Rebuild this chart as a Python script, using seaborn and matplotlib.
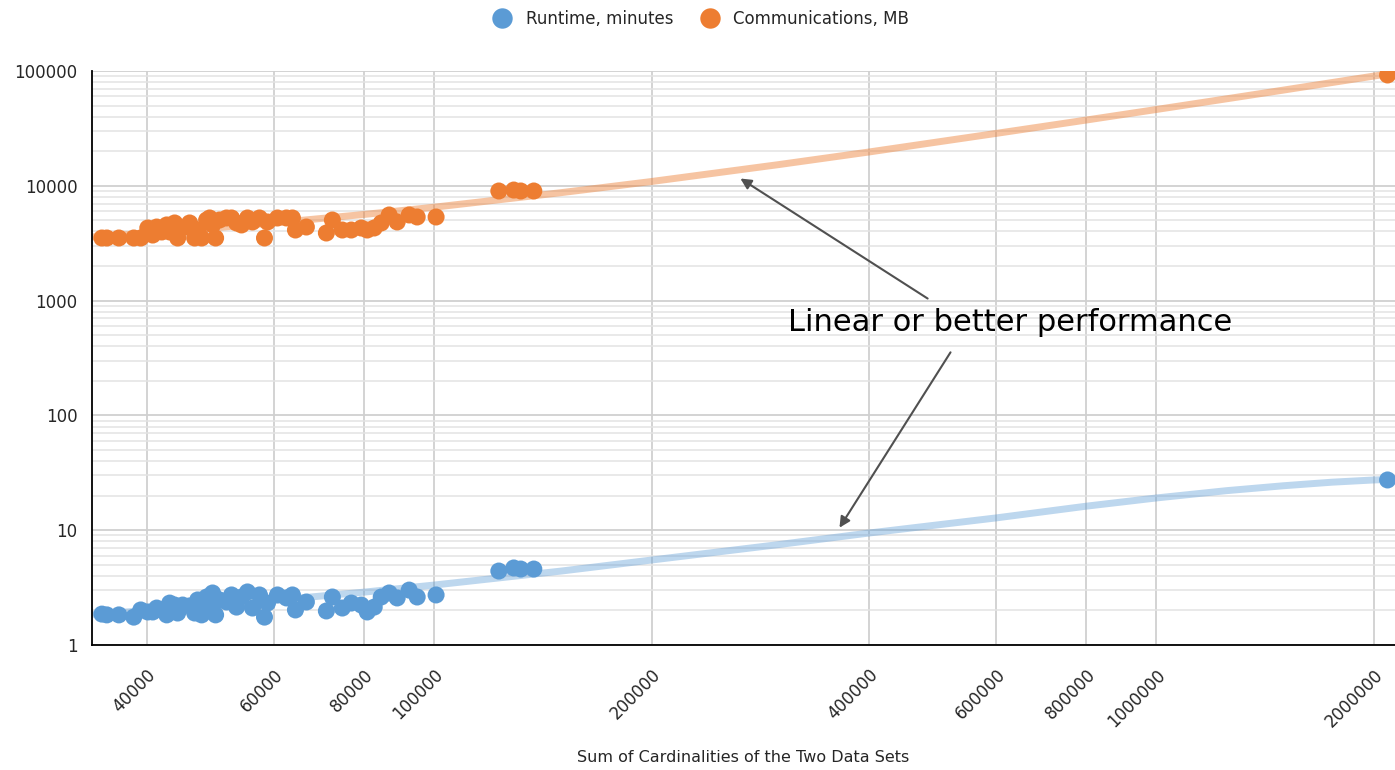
import numpy as np
import pandas as pd
import matplotlib
matplotlib.use("Agg")
import matplotlib.pyplot as plt
import matplotlib.ticker as mticker
import seaborn as sns

# x = sum of cardinalities
cardinality = [34670, 35220, 36600, 38380, 39240, 40130, 40770, 41290, 41960, 42630,
               43040, 43720, 44140, 44850, 45860, 46600, 47050, 47650, 48410, 48880,
               49340, 49820, 50450, 51590, 52420, 53260, 54110, 55150, 56040, 57300,
               58220, 58780, 60680, 62450, 63650, 64260, 66540, 70920, 72290, 74620,
               76780, 79260, 80790, 82610, 84470, 86640, 88880, 92350, 94730, 100620,
               122900, 128900, 131800, 137400, 2090000]

runtime_min = [1.86, 1.83, 1.83, 1.75, 2.02, 1.94, 1.94, 2.10, 2.02, 1.83,
               2.32, 2.23, 1.90, 2.23, 2.19, 1.90, 2.47, 1.83, 2.62, 2.32,
               2.84, 1.83, 2.47, 2.37, 2.73, 2.14, 2.62, 2.90, 2.10, 2.73,
               1.75, 2.32, 2.73, 2.57, 2.73, 2.02, 2.37, 1.98, 2.62, 2.10,
               2.32, 2.23, 1.94, 2.14, 2.62, 2.84, 2.57, 3.01, 2.62, 2.73,
               4.41, 4.69, 4.59, 4.59, 27.4]

comm_mb = [3510, 3510, 3510, 3510, 3510, 4290, 3725, 4375, 3960, 4560,
           3960, 4745, 3510, 4290, 4745, 3510, 4120, 3510, 5035, 5245,
           4560, 3510, 5035, 5245, 5245, 4745, 4560, 5245, 4840, 5245,
           3510, 4840, 5245, 5245, 5245, 4120, 4375, 3880, 5035, 4120,
           4120, 4290, 4120, 4290, 4745, 5570, 4840, 5570, 5350, 5350,
           9010, 9185, 9010, 9010, 92300]

# trendlines (Excel style)
trend_x = [33600, 40000, 60000, 80000, 100000, 150000, 200000, 300000, 400000,
           600000, 800000, 1000000, 1250000, 1500000, 1750000, 2000000, 2140000]
runtime_trend = [1.85, 2.0, 2.45, 2.89, 3.33, 4.41, 5.5, 7.5, 9.45,
                 12.8, 16.2, 19.1, 22.1, 24.4, 26.2, 27.4, 27.8]
comm_trend = [3580, 3860, 4750, 5630, 6510, 8720, 10900, 15300, 19700,
              28600, 37400, 46200, 57200, 68200, 79300, 90300, 96500]

x_ticks = [40000, 60000, 80000, 100000, 200000, 400000, 600000, 800000, 1000000, 2000000]
series_names = ["Runtime, minutes", "Communications, MB"]
colors = ["#5B9BD5", "#ED7D31"]

df = pd.DataFrame({
    "x": cardinality * 2,
    "y": runtime_min + comm_mb,
    "series": [series_names[0]] * len(cardinality) + [series_names[1]] * len(cardinality),
})

sns.set_style("white")
plt.rcParams["font.family"] = ["DejaVu Sans"]

fig = plt.figure(figsize=(13.95, 7.7), dpi=100)
ax = fig.add_axes([0.066, 0.1623, 0.934, 0.7455])

ax.set_xscale("log")
ax.set_yscale("log")

# trendlines
ax.plot(trend_x, runtime_trend, color=colors[0], alpha=0.4, lw=5, solid_capstyle="butt", zorder=2)
ax.plot(trend_x, comm_trend, color=colors[1], alpha=0.45, lw=5, solid_capstyle="butt", zorder=2)

sns.scatterplot(data=df, x="x", y="y", hue="series", palette=colors, s=150,
                edgecolor="none", ax=ax, zorder=3, legend=True)

ax.set_xlim(33600, 2140000)
ax.set_ylim(1, 100000)

# ticks and grid
ax.xaxis.set_major_locator(mticker.FixedLocator(x_ticks))
ax.xaxis.set_major_formatter(mticker.FuncFormatter(lambda v, p: f"{int(round(v))}"))
ax.xaxis.set_minor_locator(mticker.NullLocator())
ax.yaxis.set_major_locator(mticker.LogLocator(base=10, numticks=10))
ax.yaxis.set_major_formatter(mticker.FuncFormatter(lambda v, p: f"{int(round(v))}"))
ax.yaxis.set_minor_locator(mticker.LogLocator(base=10, subs=np.arange(2, 10), numticks=20))
ax.yaxis.set_minor_formatter(mticker.NullFormatter())

ax.tick_params(axis="y", which="major", direction="inout", length=17, width=1.3,
               labelsize=12, pad=2, color="black")
ax.tick_params(axis="y", which="minor", direction="inout", length=10, width=1.1, color="black")
ax.tick_params(axis="x", which="major", direction="inout", length=18, width=1.3,
               labelsize=12, pad=6, color="black")
for lab in ax.get_xticklabels():
    lab.set_rotation(45)
    lab.set_ha("right")
    lab.set_rotation_mode("anchor")

ax.grid(True, which="major", axis="both", color="#d0d0d0", lw=1.3)
ax.grid(True, which="minor", axis="y", color="#e3e3e3", lw=1.1)
ax.set_axisbelow(True)

for side in ["top", "right"]:
    ax.spines[side].set_visible(False)
for side in ["left", "bottom"]:
    ax.spines[side].set_color("black")
    ax.spines[side].set_linewidth(1.3)

ax.set_xlabel("Sum of Cardinalities of the Two Data Sets", fontsize=11.5, labelpad=14)
ax.set_ylabel("")

# legend on top
handles, labels = ax.get_legend_handles_labels()
ax.legend_.remove()
fig.legend(handles, labels, loc="upper center", bbox_to_anchor=(0.5, 1.007), ncol=2,
           frameon=False, fontsize=12, markerscale=1.2, columnspacing=1.2, handletextpad=0.4)

# annotation with two arrows
ax.text(0.7045, 0.5627, "Linear or better performance", transform=ax.transAxes,
        ha="center", va="center", fontsize=22, color="black")
arrow = dict(arrowstyle="-|>", color="#505050", lw=1.5, mutation_scale=16)
ax.annotate("", xy=(0.4958, 0.8153), xytext=(0.6431, 0.601),
            xycoords="axes fraction", textcoords="axes fraction", arrowprops=arrow)
ax.annotate("", xy=(0.5725, 0.2003), xytext=(0.660, 0.514),
            xycoords="axes fraction", textcoords="axes fraction", arrowprops=arrow)

fig.savefig("out.png", dpi=100)
